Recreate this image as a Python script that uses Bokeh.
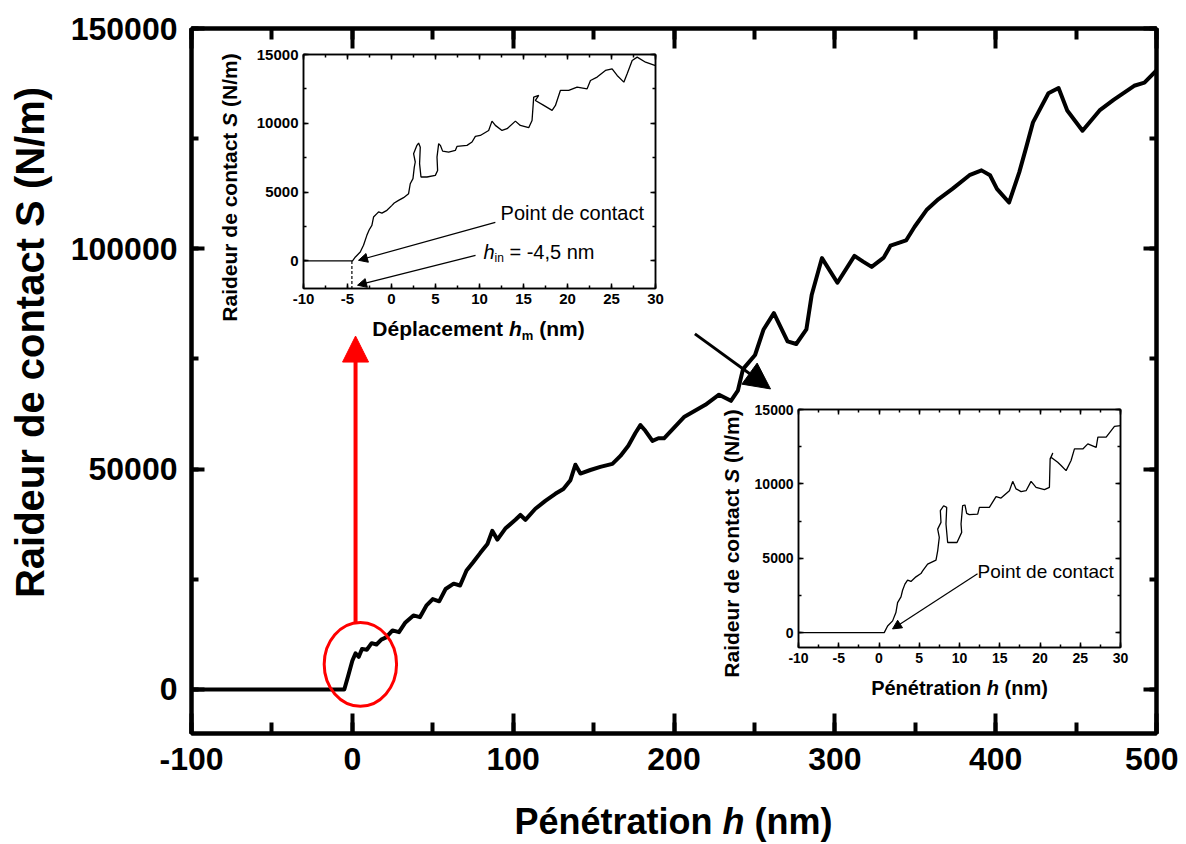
import math
from bokeh.plotting import figure
from bokeh.models import (Range1d, LinearAxis, SingleIntervalTicker,
                          CustomJSTickFormatter, Label, Arrow, NormalHead, GridBox)
from bokeh.embed import file_html
from bokeh.resources import INLINE

# ---------------- data ----------------
main_h = [-100, -5, -2.5, 0, 2, 4, 6, 9, 12, 15, 18, 21, 25, 29, 33, 38, 42, 46, 50, 54, 58,
          63, 67, 71, 75, 79.6, 84, 87, 90.2, 95.1, 101.4, 104.5, 107.6, 113.8, 120, 126.2,
          131.2, 135.6, 138.7, 141.8, 148, 154.2, 161.7, 166.7, 171.6, 176, 179.1, 182.2,
          186.6, 190.3, 193.8, 206.5, 219.5, 228, 235.4, 239.7, 242.9, 250.4, 255.7, 262.1,
          270.6, 276, 282.3, 285.6, 292, 301.6, 312.2, 317.6, 322.9, 330.4, 334.6, 344.3,
          349.6, 357, 364.5, 373.1, 383.7, 391.2, 396.5, 400.8, 408.3, 414.7, 418.9, 423.2,
          432.8, 439.1, 444.5, 454, 464.6, 473.3, 486.1, 492.5, 500]
main_S = [0, 0, 3200, 6500, 8200, 7400, 9200, 9000, 10500, 10200, 11300, 11800, 13400, 13000,
          15200, 16800, 16400, 19000, 20500, 20000, 22800, 24000, 23600, 27000, 28800, 31000,
          33000, 36000, 34000, 36500, 38500, 39600, 38500, 41000, 42800, 44400, 45500, 47500,
          51000, 49000, 49800, 50500, 51200, 53000, 55300, 58200, 60000, 58700, 56400, 57000,
          57000, 61900, 64600, 66900, 65500, 67800, 72700, 75900, 81700, 85400, 79000, 78400,
          81700, 89500, 97900, 92300, 98400, 97100, 95900, 98000, 100700, 101900, 105000,
          108800, 111300, 113600, 116700, 117800, 116700, 113600, 110500, 117400, 122900,
          128700, 135300, 136500, 131400, 126800, 131400, 133800, 137000, 137700, 140500]

inset1_hm = [-10, -4.43, -4.1, -3.55, -3.18, -2.8, -2.53, -2.23, -2.04, -1.66, -1.47, -1.09,
             -0.52, 0.05, 0.31, 0.8, 1.37, 1.94, 2.13, 2.44, 2.59, 2.7, 2.51, 2.89, 3.08, 3.27,
             3.19, 3.35, 4.03, 4.98, 5.24, 5.17, 5.36, 5.55, 5.81, 6.49, 7.25, 7.44, 8.58, 9.15,
             9.53, 10.09, 11.04, 11.42, 11.8, 12.56, 13.13, 14.08, 14.64, 15.59, 15.97, 16.16,
             16.73, 16.35, 17.3, 18.25, 18.63, 19.19, 20.14, 21.09, 22.23, 22.61, 23.37, 24.31,
             25.07, 25.64, 26.4, 26.78, 27.35, 27.92, 28.87, 30]
inset1_S = [0, 0, 290, 650, 1140, 1860, 2270, 2590, 3190, 3440, 3560, 3480, 3680, 4040, 4210,
            4400, 4600, 4890, 5610, 5980, 6820, 7190, 7790, 8400, 8570, 8270, 7070, 6100, 6100,
            6220, 6580, 7550, 8520, 8400, 7980, 7910, 8030, 8320, 8400, 8640, 9050, 9120, 9480,
            10160, 9850, 9480, 9610, 10160, 9850, 9680, 10210, 11900, 12030, 11660, 11300,
            10940, 11300, 12390, 12390, 12630, 12510, 13110, 13360, 13840, 13960, 13480, 12990,
            13600, 14570, 14810, 14440, 14200]

inset2_h = [-10, 0.65, 1.07, 1.69, 2.1, 2.31, 2.73, 2.93, 3.22, 3.55, 3.97, 4.59, 5.21, 5.42,
            6.04, 7.08, 7.29, 7.49, 7.29, 7.7, 7.62, 8.03, 8.41, 8.32, 8.53, 9.69, 10.27, 10.19,
            10.39, 10.68, 10.89, 11.22, 12.26, 12.47, 13.71, 14.54, 15.16, 16.2, 16.61, 17.03,
            17.65, 18.27, 18.89, 19.51, 20.55, 21.17, 21.26, 21.59, 21.37, 22.2, 22.62, 23.24,
            23.86, 24.28, 25.32, 25.94, 26.98, 27.19, 28.22, 29.25, 30]
inset2_S = [0, 0, 450, 790, 1350, 2020, 2400, 2850, 3260, 3530, 3440, 3750, 3970, 4150, 4600,
            4870, 5500, 6400, 6960, 7410, 8200, 8530, 8420, 7300, 6060, 6060, 6740, 7300, 8530,
            8580, 8020, 7930, 7970, 8420, 8420, 9140, 9050, 9540, 10170, 9660, 9480, 9540, 10170,
            9770, 9610, 9770, 11680, 12080, 11790, 11450, 11230, 10890, 11570, 12350, 12350,
            12690, 12460, 13140, 13140, 13860, 13920]

h_in = -4.5

FONT = "Liberation Sans"
W, H = 1178, 836
HO = 842  # overlay height

# Arial / Liberation Sans advance widths (per 1000 em)
BOLD_W = {' ': 278, '(': 333, ')': 333, '/': 278, '-': 333, '=': 584, ',': 278,
          'D': 722, 'N': 722, 'P': 667, 'R': 722, 'S': 667, 'a': 556, 'c': 556, 'd': 611,
          'e': 556, 'é': 556, 'h': 611, 'i': 278, 'l': 278, 'm': 889, 'n': 611, 'o': 611,
          'p': 611, 'r': 389, 't': 333, 'u': 611}
REG_W = {' ': 278, '=': 584, '-': 333, ',': 278, 'P': 667, 'a': 556, 'c': 500, 'd': 556,
         'e': 556, 'h': 556, 'i': 222, 'm': 833, 'n': 556, 'o': 556, 't': 278}


def tw(s, size, bold):
    table = BOLD_W if bold else REG_W
    return sum(table.get(ch, 556) for ch in s) * size / 1000.0


def rich(p, x, y, segs, angle=0.0, align="center"):
    """segs: (text, size, bold, italic, shift_down_px)"""
    total = sum(tw(t, sz, b) for t, sz, b, it, sh in segs)
    pos = -total / 2 if align == "center" else 0.0
    for t, sz, b, it, sh in segs:
        lead = len(t) - len(t.lstrip(' '))
        trail = len(t) - len(t.rstrip(' '))
        core = t.strip(' ')
        pos += lead * tw(' ', sz, b)
        style = "bold italic" if (b and it) else ("bold" if b else ("italic" if it else "normal"))
        if angle == 0:
            xo, yo = pos, -sh
        else:
            xo, yo = sh, pos
        p.add_layout(Label(x=x, y=y, x_offset=xo, y_offset=yo, text=core,
                           text_font=FONT, text_font_size=f"{sz}px", text_font_style=style,
                           angle=angle, text_align="left", text_baseline="middle",
                           text_color="black"))
        pos += tw(core, sz, b) + trail * tw(' ', sz, b)


def style_axis(ax, interval, tick_in, minor_in, lw, label_size, show_labels=True):
    ax.ticker = SingleIntervalTicker(interval=interval, num_minor_ticks=2)
    if show_labels:
        ax.formatter = CustomJSTickFormatter(code="return String(Math.round(tick))")
        ax.major_label_text_font_size = f"{label_size}px"
    else:
        ax.formatter = CustomJSTickFormatter(code="return ''")
        ax.major_label_standoff = 0
    ax.axis_line_width = lw
    ax.axis_line_color = "black"
    ax.major_tick_in = tick_in
    ax.major_tick_out = 0
    ax.minor_tick_in = minor_in
    ax.minor_tick_out = 0
    ax.major_tick_line_width = lw
    ax.minor_tick_line_width = lw
    ax.major_tick_line_color = "black"
    ax.minor_tick_line_color = "black"
    ax.major_label_text_font = FONT
    ax.major_label_text_font_style = "bold"
    ax.major_label_text_color = "black"
    ax.axis_label = None


# ---------------- main figure ----------------
p = figure(width=W, height=H, x_range=Range1d(-100, 500), y_range=Range1d(-10000, 150000),
           output_backend="svg", toolbar_location=None,
           min_border_left=191, min_border_right=22, min_border_top=28, min_border_bottom=103)
p.grid.visible = False
p.outline_line_color = "black"
p.outline_line_width = 4
style_axis(p.xaxis[0], 100, 20, 11, 4, 32)
style_axis(p.yaxis[0], 50000, 13, 7, 4, 32)
p.xaxis[0].major_label_standoff = 14
p.yaxis[0].major_label_standoff = 14
ax_r = LinearAxis()
style_axis(ax_r, 50000, 13, 7, 4, 32, show_labels=False)
p.add_layout(ax_r, "right")
ax_t = LinearAxis()
style_axis(ax_t, 100, 20, 11, 4, 32, show_labels=False)
p.add_layout(ax_t, "above")

p.line(main_h, main_S, line_color="black", line_width=4, line_join="round")

# red ellipse + red arrow, black arrow
p.ellipse(x=[5], y=[5700], width=[45], height=[19000], fill_color=None,
          line_color="red", line_width=3)
p.add_layout(Arrow(end=NormalHead(size=26, fill_color="red", line_color="red"),
                   x_start=2, y_start=15200, x_end=2, y_end=80200,
                   line_color="red", line_width=4))
p.add_layout(Arrow(end=NormalHead(size=26, fill_color="black", line_color="black"),
                   x_start=213, y_start=80700, x_end=260, y_end=68200,
                   line_color="black", line_width=3))


# ---------------- insets ----------------
def make_inset(width, height, yr, left, top, right, bottom, tick_size):
    q = figure(width=width, height=height, x_range=Range1d(-10, 30), y_range=Range1d(*yr),
               output_backend="svg", toolbar_location=None,
               min_border_left=left, min_border_top=top, min_border_right=right,
               min_border_bottom=bottom)
    q.grid.visible = False
    q.outline_line_color = "black"
    q.outline_line_width = 1.5
    q.background_fill_alpha = 0
    q.border_fill_alpha = 0
    style_axis(q.xaxis[0], 5, 5, 3, 1.5, tick_size)
    style_axis(q.yaxis[0], 5000, 5, 3, 1.5, tick_size)
    q.xaxis[0].major_label_standoff = 5
    q.yaxis[0].major_label_standoff = 5
    r = LinearAxis()
    style_axis(r, 5000, 5, 3, 1.5, tick_size, show_labels=False)
    q.add_layout(r, "right")
    t = LinearAxis()
    style_axis(t, 5, 5, 3, 1.5, tick_size, show_labels=False)
    q.add_layout(t, "above")
    return q


ins1 = make_inset(450, 300, (-2000, 15000), 88, 9, 10, 57, 15)
ins1.line(inset1_hm, inset1_S, line_color="black", line_width=1.3)
ins1.line([h_in, h_in], [0, -2000], line_color="black", line_width=1.2, line_dash="3 2")
ins1.add_layout(Arrow(end=NormalHead(size=9, fill_color="black", line_color="black", line_width=1),
                      x_start=11.8, y_start=2800, x_end=-3.75, y_end=50,
                      line_color="black", line_width=1.2))
ins1.add_layout(Arrow(end=NormalHead(size=9, fill_color="black", line_color="black", line_width=1),
                      x_start=9.55, y_start=410, x_end=-3.86, y_end=-1760,
                      line_color="black", line_width=1.2))
ins1.add_layout(Label(x=12.4, y=3460, text="Point de contact", text_font=FONT,
                      text_font_size="20px", text_align="left", text_baseline="middle",
                      text_color="black"))
rich(ins1, 10.45, 630, [("h", 20, False, True, 0), ("in", 12, False, False, 6),
                        (" = -4,5 nm", 20, False, False, 0)], align="left")

ins2 = make_inset(415, 300, (-1000, 15000), 83, 9, 10, 53, 14)
ins2.line(inset2_h, inset2_S, line_color="black", line_width=1.3)
ins2.add_layout(Arrow(end=NormalHead(size=9, fill_color="black", line_color="black", line_width=1),
                      x_start=12.24, y_start=3950, x_end=1.68, y_end=250,
                      line_color="black", line_width=1.2))
ins2.add_layout(Label(x=12.24, y=4090, text="Point de contact", text_font=FONT,
                      text_font_size="19px", text_align="left", text_baseline="middle",
                      text_color="black"))

# ---------------- overlay for axis titles (page pixel coordinates) ----------------
ov = figure(width=W, height=HO, x_range=Range1d(0, W), y_range=Range1d(0, HO),
            output_backend="svg", toolbar_location=None, min_border=0)
ov.axis.visible = False
ov.grid.visible = False
ov.outline_line_color = None
ov.background_fill_alpha = 0
ov.border_fill_alpha = 0


def at(px, py):
    return px, HO - py


ov.add_layout(Label(x=at(29, 342)[0], y=at(29, 342)[1], text="Raideur de contact S (N/m)",
                    angle=math.pi / 2, text_font=FONT, text_font_size="40px",
                    text_font_style="bold", text_align="center", text_baseline="middle",
                    text_color="black"))
rich(ov, *at(673, 821), [("Pénétration ", 36, True, False, 0), ("h", 36, True, True, 0),
                         (" (nm)", 36, True, False, 0)])
rich(ov, *at(229, 187), [("Raideur de contact ", 21, True, False, 0), ("S", 21, True, True, 0),
                         (" (N/m)", 21, True, False, 0)], angle=math.pi / 2)
rich(ov, *at(478, 328), [("Déplacement ", 21, True, False, 0), ("h", 21, True, True, 0),
                         ("m", 13, True, False, 7), (" (nm)", 21, True, False, 0)])
rich(ov, *at(731, 543), [("Raideur de contact ", 21, True, False, 0), ("S", 21, True, True, 0),
                         (" (N/m)", 21, True, False, 0)], angle=math.pi / 2)
rich(ov, *at(959, 687), [("Pénétration ", 20, True, False, 0), ("h", 20, True, True, 0),
                         (" (nm)", 20, True, False, 0)])

grid = GridBox(children=[(p, 1, 1, 5, 5), (ins1, 2, 2, 1, 1), (ins2, 4, 4, 1, 1),
                         (ov, 0, 0, 7, 7)],
               cols=["0px", "215px", "450px", "50px", "415px", "48px", "0px"],
               rows=["0px", "45px", "300px", "55px", "300px", "136px", "6px"])

open("out.html", "w").write(file_html(grid, INLINE))
